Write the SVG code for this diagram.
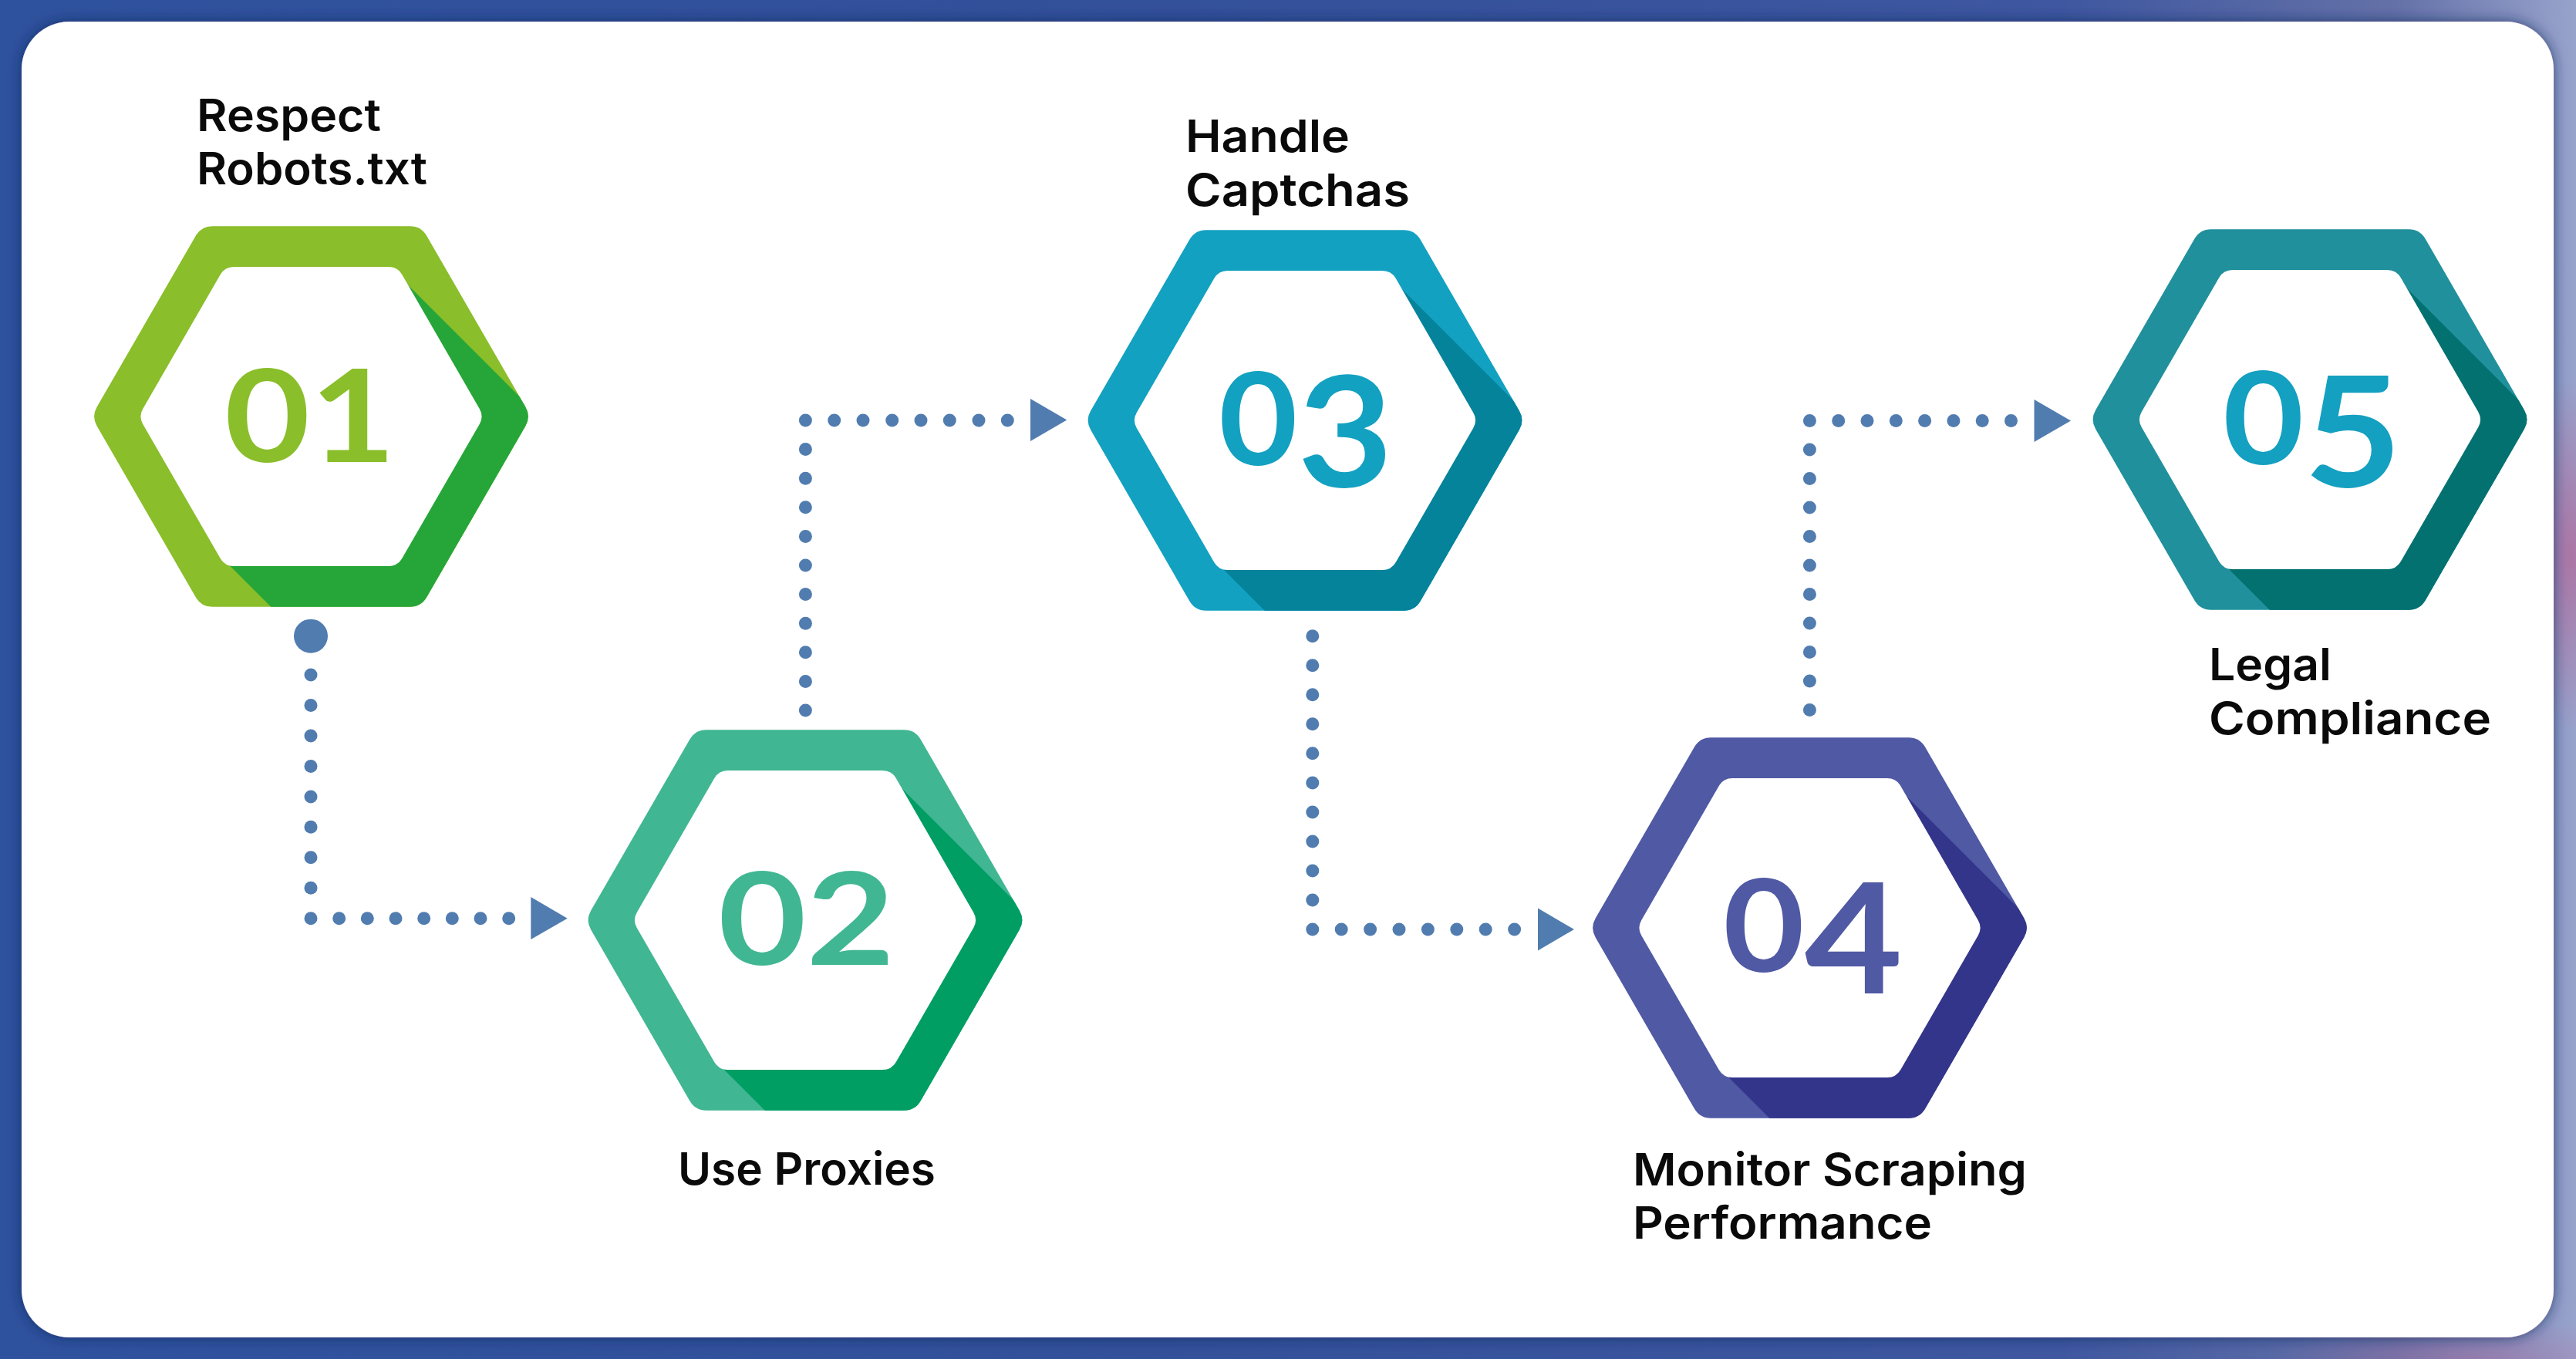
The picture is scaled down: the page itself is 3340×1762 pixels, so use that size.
<svg xmlns="http://www.w3.org/2000/svg" width="3340" height="1762" viewBox="0 0 3340 1762">
<defs>
<style>
.lbl{font-family:Inter,"Liberation Sans",sans-serif;font-weight:600;font-size:58px;fill:#0a0a0a}
.num{font-family:Lato,"DejaVu Sans",sans-serif;font-weight:700;font-size:166px}
.dot{fill:#517CAF}
.white{fill:#ffffff}
</style>
<linearGradient id="bg" x1="0" y1="0" x2="1" y2="0">
<stop offset="0" stop-color="#2F529E"/>
<stop offset="0.45" stop-color="#33509A"/>
<stop offset="0.8" stop-color="#3E57A0"/>
<stop offset="0.93" stop-color="#6471A8"/>
<stop offset="1" stop-color="#98A3CC"/>
</linearGradient>
<radialGradient id="pink" cx="0.5" cy="0.5" r="0.5">
<stop offset="0" stop-color="#B06E9E" stop-opacity="0.85"/>
<stop offset="1" stop-color="#B06E9E" stop-opacity="0"/>
</radialGradient>
<filter id="shadow" x="-5%" y="-5%" width="110%" height="110%">
<feGaussianBlur in="SourceAlpha" stdDeviation="9"/>
<feOffset dx="0" dy="0" result="b"/>
<feFlood flood-color="#142456" flood-opacity="0.7"/>
<feComposite in2="b" operator="in"/>
<feMerge><feMergeNode/><feMergeNode in="SourceGraphic"/></feMerge>
</filter>
<path id="hexO" d="M277.785,-12.497 Q285,0 277.785,12.497 L149.715,234.323 Q142.5,246.82 128.07,246.82 L-128.07,246.82 Q-142.5,246.82 -149.715,234.323 L-277.785,12.497 Q-285,0 -277.785,-12.497 L-149.715,-234.323 Q-142.5,-246.82 -128.07,-246.82 L128.07,-246.82 Q142.5,-246.82 149.715,-234.323 Z"/>
<path id="hexI" d="M218.225,-10.003 Q224,0 218.225,10.003 L117.775,183.987 Q112,193.99 100.45,193.99 L-100.45,193.99 Q-112,193.99 -117.775,183.987 L-218.225,10.003 Q-224,0 -218.225,-10.003 L-117.775,-183.987 Q-112,-193.99 -100.45,-193.99 L100.45,-193.99 Q112,-193.99 117.775,-183.987 Z"/>
<clipPath id="clipO"><use href="#hexO"/></clipPath>
<polygon id="shade" points="102,-194 802,506 595,894 -105,194"/>
</defs>

<rect x="0" y="0" width="3340" height="1762" fill="url(#bg)"/>
<ellipse cx="3335" cy="720" rx="70" ry="230" fill="url(#pink)"/>
<ellipse cx="3200" cy="1770" rx="260" ry="60" fill="url(#pink)" opacity="0.6"/>
<rect x="28" y="28" width="3283" height="1706" rx="62" ry="62" fill="#ffffff" filter="url(#shadow)"/>

<g id="connectors">
<g id="conn-1-2">
<circle class="dot" cx="403" cy="824.7" r="22"/>
<circle class="dot" cx="403" cy="875" r="8.5"/>
<circle class="dot" cx="403" cy="914.5" r="8.5"/>
<circle class="dot" cx="403" cy="954" r="8.5"/>
<circle class="dot" cx="403" cy="993.4" r="8.5"/>
<circle class="dot" cx="403" cy="1032.9" r="8.5"/>
<circle class="dot" cx="403" cy="1072.3" r="8.5"/>
<circle class="dot" cx="403" cy="1111.8" r="8.5"/>
<circle class="dot" cx="403" cy="1151.2" r="8.5"/>
<circle class="dot" cx="403" cy="1190.7" r="8.5"/>
<circle class="dot" cx="439.7" cy="1190.7" r="8.5"/>
<circle class="dot" cx="476.3" cy="1190.7" r="8.5"/>
<circle class="dot" cx="513" cy="1190.7" r="8.5"/>
<circle class="dot" cx="549.7" cy="1190.7" r="8.5"/>
<circle class="dot" cx="586.3" cy="1190.7" r="8.5"/>
<circle class="dot" cx="623" cy="1190.7" r="8.5"/>
<circle class="dot" cx="659.7" cy="1190.7" r="8.5"/>
<polygon class="dot" points="688.3,1163 735.7,1190.7 688.3,1218"/>
</g>
<g id="conn-2-3">
<circle class="dot" cx="1044.4" cy="921" r="8.5"/>
<circle class="dot" cx="1044.4" cy="883.4" r="8.5"/>
<circle class="dot" cx="1044.4" cy="845.8" r="8.5"/>
<circle class="dot" cx="1044.4" cy="808.2" r="8.5"/>
<circle class="dot" cx="1044.4" cy="770.6" r="8.5"/>
<circle class="dot" cx="1044.4" cy="733" r="8.5"/>
<circle class="dot" cx="1044.4" cy="695.4" r="8.5"/>
<circle class="dot" cx="1044.4" cy="657.8" r="8.5"/>
<circle class="dot" cx="1044.4" cy="620.2" r="8.5"/>
<circle class="dot" cx="1044.4" cy="582.6" r="8.5"/>
<circle class="dot" cx="1044.4" cy="545" r="8.5"/>
<circle class="dot" cx="1081.7" cy="545" r="8.5"/>
<circle class="dot" cx="1119" cy="545" r="8.5"/>
<circle class="dot" cx="1156.7" cy="545" r="8.5"/>
<circle class="dot" cx="1194" cy="545" r="8.5"/>
<circle class="dot" cx="1231.3" cy="545" r="8.5"/>
<circle class="dot" cx="1269" cy="545" r="8.5"/>
<circle class="dot" cx="1306.3" cy="545" r="8.5"/>
<polygon class="dot" points="1336,517 1383.3,544.5 1336,572"/>
</g>
<g id="conn-3-4">
<circle class="dot" cx="1701.8" cy="824.7" r="8.5"/>
<circle class="dot" cx="1701.8" cy="862.7" r="8.5"/>
<circle class="dot" cx="1701.8" cy="900.8" r="8.5"/>
<circle class="dot" cx="1701.8" cy="938.8" r="8.5"/>
<circle class="dot" cx="1701.8" cy="976.8" r="8.5"/>
<circle class="dot" cx="1701.8" cy="1014.9" r="8.5"/>
<circle class="dot" cx="1701.8" cy="1052.9" r="8.5"/>
<circle class="dot" cx="1701.8" cy="1090.9" r="8.5"/>
<circle class="dot" cx="1701.8" cy="1128.9" r="8.5"/>
<circle class="dot" cx="1701.8" cy="1167" r="8.5"/>
<circle class="dot" cx="1701.8" cy="1205" r="8.5"/>
<circle class="dot" cx="1739.2" cy="1205" r="8.5"/>
<circle class="dot" cx="1776.6" cy="1205" r="8.5"/>
<circle class="dot" cx="1814" cy="1205" r="8.5"/>
<circle class="dot" cx="1851.4" cy="1205" r="8.5"/>
<circle class="dot" cx="1888.8" cy="1205" r="8.5"/>
<circle class="dot" cx="1926.2" cy="1205" r="8.5"/>
<circle class="dot" cx="1963.6" cy="1205" r="8.5"/>
<polygon class="dot" points="1994,1177.5 2041,1205 1994,1232.5"/>
</g>
<g id="conn-4-5">
<circle class="dot" cx="2346.4" cy="920.4" r="8.5"/>
<circle class="dot" cx="2346.4" cy="882.9" r="8.5"/>
<circle class="dot" cx="2346.4" cy="845.4" r="8.5"/>
<circle class="dot" cx="2346.4" cy="807.9" r="8.5"/>
<circle class="dot" cx="2346.4" cy="770.4" r="8.5"/>
<circle class="dot" cx="2346.4" cy="732.9" r="8.5"/>
<circle class="dot" cx="2346.4" cy="695.4" r="8.5"/>
<circle class="dot" cx="2346.4" cy="657.9" r="8.5"/>
<circle class="dot" cx="2346.4" cy="620.5" r="8.5"/>
<circle class="dot" cx="2346.4" cy="583" r="8.5"/>
<circle class="dot" cx="2346.4" cy="545.5" r="8.5"/>
<circle class="dot" cx="2383.7" cy="545.5" r="8.5"/>
<circle class="dot" cx="2421" cy="545.5" r="8.5"/>
<circle class="dot" cx="2458.3" cy="545.5" r="8.5"/>
<circle class="dot" cx="2495.6" cy="545.5" r="8.5"/>
<circle class="dot" cx="2532.9" cy="545.5" r="8.5"/>
<circle class="dot" cx="2570.2" cy="545.5" r="8.5"/>
<circle class="dot" cx="2607.5" cy="545.5" r="8.5"/>
<polygon class="dot" points="2637.5,518 2685,545.5 2637.5,573"/>
</g>
</g>

<g id="node-01">
<g transform="translate(403.5,540)">
<use href="#hexO" fill="#8ABE2A"/>
<use href="#shade" fill="#26A638" clip-path="url(#clipO)"/>
<use href="#hexI" class="white"/>
</g>
<text class="num" x="291" y="599" textLength="222" lengthAdjust="spacingAndGlyphs" fill="#8ABE2A">01</text>
<text class="lbl" x="255" y="170" font-size="55" textLength="239" lengthAdjust="spacingAndGlyphs">Respect</text>
<text class="lbl" x="255" y="239" font-size="55" textLength="299" lengthAdjust="spacingAndGlyphs">Robots.txt</text>
</g>

<g id="node-02">
<g transform="translate(1044,1193)">
<use href="#hexO" fill="#41B693"/>
<use href="#shade" fill="#009E63" clip-path="url(#clipO)"/>
<use href="#hexI" class="white"/>
</g>
<text class="num" x="931" y="1251" textLength="229" lengthAdjust="spacingAndGlyphs" fill="#41B693">02</text>
<text class="lbl" x="879" y="1536" textLength="334" lengthAdjust="spacingAndGlyphs">Use Proxies</text>
</g>

<g id="node-03">
<g transform="translate(1692,545)">
<use href="#hexO" fill="#13A1C1"/>
<use href="#shade" fill="#04839B" clip-path="url(#clipO)"/>
<use href="#hexI" class="white"/>
</g>
<text class="num" x="1580" y="603" textLength="226" lengthAdjust="spacingAndGlyphs" fill="#13A1C1">0<tspan font-size="200" dy="28">3</tspan></text>
<text class="lbl" x="1537" y="197" textLength="213" lengthAdjust="spacingAndGlyphs">Handle</text>
<text class="lbl" x="1537" y="267" textLength="291" lengthAdjust="spacingAndGlyphs">Captchas</text>
</g>

<g id="node-04">
<g transform="translate(2346.5,1203)">
<use href="#hexO" fill="#5059A4"/>
<use href="#shade" fill="#33358A" clip-path="url(#clipO)"/>
<use href="#hexI" class="white"/>
</g>
<text class="num" x="2234" y="1260" textLength="233" lengthAdjust="spacingAndGlyphs" fill="#5059A4">0<tspan font-size="200" dy="28">4</tspan></text>
<text class="lbl" x="2117" y="1537" textLength="511" lengthAdjust="spacingAndGlyphs">Monitor Scraping</text>
<text class="lbl" x="2117" y="1606" textLength="388" lengthAdjust="spacingAndGlyphs">Performance</text>
</g>

<g id="node-05">
<g transform="translate(2995,544)">
<use href="#hexO" fill="#20909C"/>
<use href="#shade" fill="#037170" clip-path="url(#clipO)"/>
<use href="#hexI" class="white"/>
</g>
<text class="num" x="2882" y="602" textLength="232" lengthAdjust="spacingAndGlyphs" fill="#14A0C0">0<tspan font-size="200" dy="29">5</tspan></text>
<text class="lbl" x="2864" y="882" textLength="159" lengthAdjust="spacingAndGlyphs">Legal</text>
<text class="lbl" x="2864" y="952" textLength="366" lengthAdjust="spacingAndGlyphs">Compliance</text>
</g>
</svg>
